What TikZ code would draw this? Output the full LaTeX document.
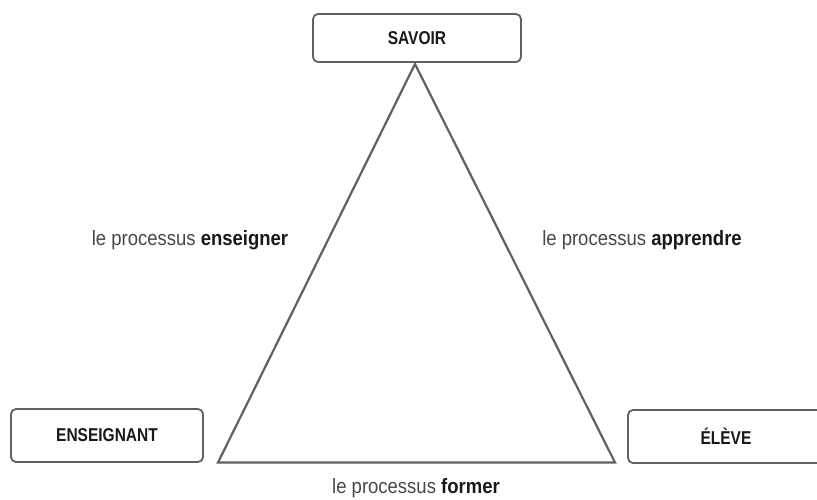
\documentclass[tikz,border=0pt]{standalone}
\usepackage{fontspec}
\usepackage{graphicx}
\setmainfont{Liberation Sans}
\newcommand{\tallbox}[1]{\scalebox{1}[1.2]{#1}}
\newcommand{\talllab}[1]{\scalebox{1}[1.12]{#1}}
\begin{document}
\begin{tikzpicture}[x=1pt,y=-1pt,
  box/.style={draw=black!62, line width=1.8pt, rounded corners=5pt, fill=white,
    inner sep=0pt, font=\fontsize{15.5}{18}\selectfont\bfseries, text=black!90},
  side/.style={draw=black!62, line width=2.2pt, line join=miter},
  lab/.style={inner sep=0pt, font=\fontsize{18.5}{22}\selectfont, text=black!72}]
\clip (0,0) rectangle (817,499);
\fill[white] (0,0) rectangle (817,499);
\node[box, minimum width=208pt, minimum height=48pt] (savoir) at (417,38) {\tallbox{SAVOIR}};
\node[box, minimum width=192pt, minimum height=53pt] (ens) at (107,435.5) {\tallbox{ENSEIGNANT}};
\node[box, minimum width=196pt, minimum height=53pt] (eleve) at (726,436.5) {\tallbox{ÉLÈVE}};
\coordinate (top) at (415,64);
\coordinate (bl) at (218,462.5);
\coordinate (br) at (615,462.5);
\draw[side] (top) -- (bl) -- (br) -- cycle;
\node[lab] (lens) at (190,240) {\talllab{le processus \textbf{\color{black!90}enseigner}}};
\node[lab] (lapp) at (642,240) {\talllab{le processus \textbf{\color{black!90}apprendre}}};
\node[lab] (lfor) at (416,488) {\talllab{le processus \textbf{\color{black!90}former}}};
\end{tikzpicture}
\end{document}
